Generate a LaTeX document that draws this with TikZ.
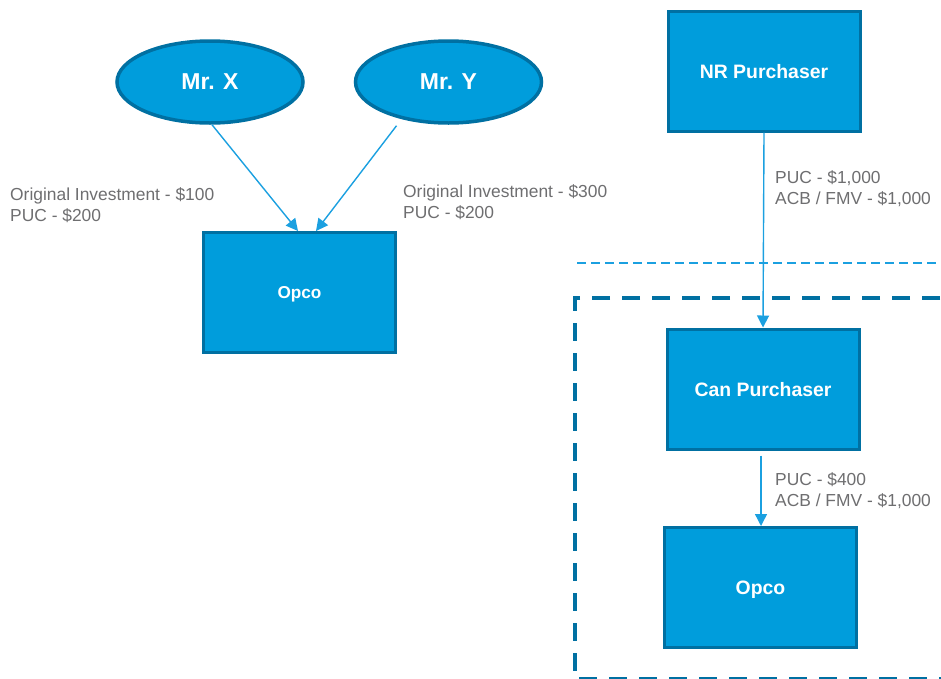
\documentclass[tikz,border=0pt]{standalone}
\usepackage{fontspec}
\setmainfont{Liberation Sans}
\usetikzlibrary{shapes.geometric,arrows.meta}

\definecolor{boxfill}{RGB}{0,157,220}
\definecolor{boxline}{RGB}{0,112,162}
\definecolor{arrowcol}{RGB}{27,160,224}
\definecolor{labelcol}{RGB}{110,110,112}

\begin{document}
\begin{tikzpicture}[x=1pt,y=-1pt,
	owner/.style={ellipse,draw=boxline,fill=boxfill,line width=3.5pt,minimum width=186pt,minimum height=82pt,text=white,font=\fontsize{23}{27}\selectfont\bfseries},
	entity/.style={rectangle,draw=boxline,fill=boxfill,line width=3pt,minimum width=192pt,minimum height=120pt,text depth=0pt,text=white},
	amount/.style={anchor=west,align=left,inner sep=0pt,text=labelcol,font=\fontsize{17.4}{21}\selectfont},
	flow/.style={draw=arrowcol,line width=1.4pt,-{Triangle[length=12pt,width=12pt]}}]

	\clip (0,0) rectangle (941,678);

	\node[owner] (mrx) at (210,82) {Mr. X};
	\node[owner] (mry) at (448.5,82) {Mr. Y};
	\node[entity,font=\fontsize{17.2}{20}\selectfont\bfseries] (opcoL) at (299.5,292.5) {Opco};

	\node[entity,font=\fontsize{19.4}{23}\selectfont\bfseries] (nr) at (764,71) {NR Purchaser};
	\node[entity,font=\fontsize{19.4}{23}\selectfont\bfseries] (can) at (763,389) {Can Purchaser};
	\node[entity,font=\fontsize{19.4}{23}\selectfont\bfseries] (opcoR) at (760.5,587.5) {Opco};

	\node[amount] (lx) at (10,205) {Original Investment - \$100\\PUC - \$200};
	\node[amount] (ly) at (403,202.5) {Original Investment - \$300\\PUC - \$200};
	\node[amount] (lnr) at (775,188.5) {PUC - \$1,000\\ACB / FMV - \$1,000};
	\node[amount] (lcan) at (775,490.5) {PUC - \$400\\ACB / FMV - \$1,000};

	\draw[flow] ([xshift=2pt]mrx.south) -- ([xshift=-1.5pt]opcoL.north);
	\draw[flow] ([xshift=-52pt,yshift=-1pt]mry.south) -- ([xshift=16.5pt]opcoL.north);
	\draw[flow] (nr.south) -- (can.north);
	\draw[flow,shorten <=5pt] ([xshift=-2pt]can.south) -- ([xshift=0.5pt]opcoR.north);

	\draw[arrowcol,line width=1.3pt,dash pattern=on 9pt off 5pt] (577,263) -- (941,263);
	\draw[boxline,line width=4pt,dash pattern=on 18pt off 12pt] (1000,298) -- (575,298) -- (575,679) -- (1000,679);

\end{tikzpicture}
\end{document}
